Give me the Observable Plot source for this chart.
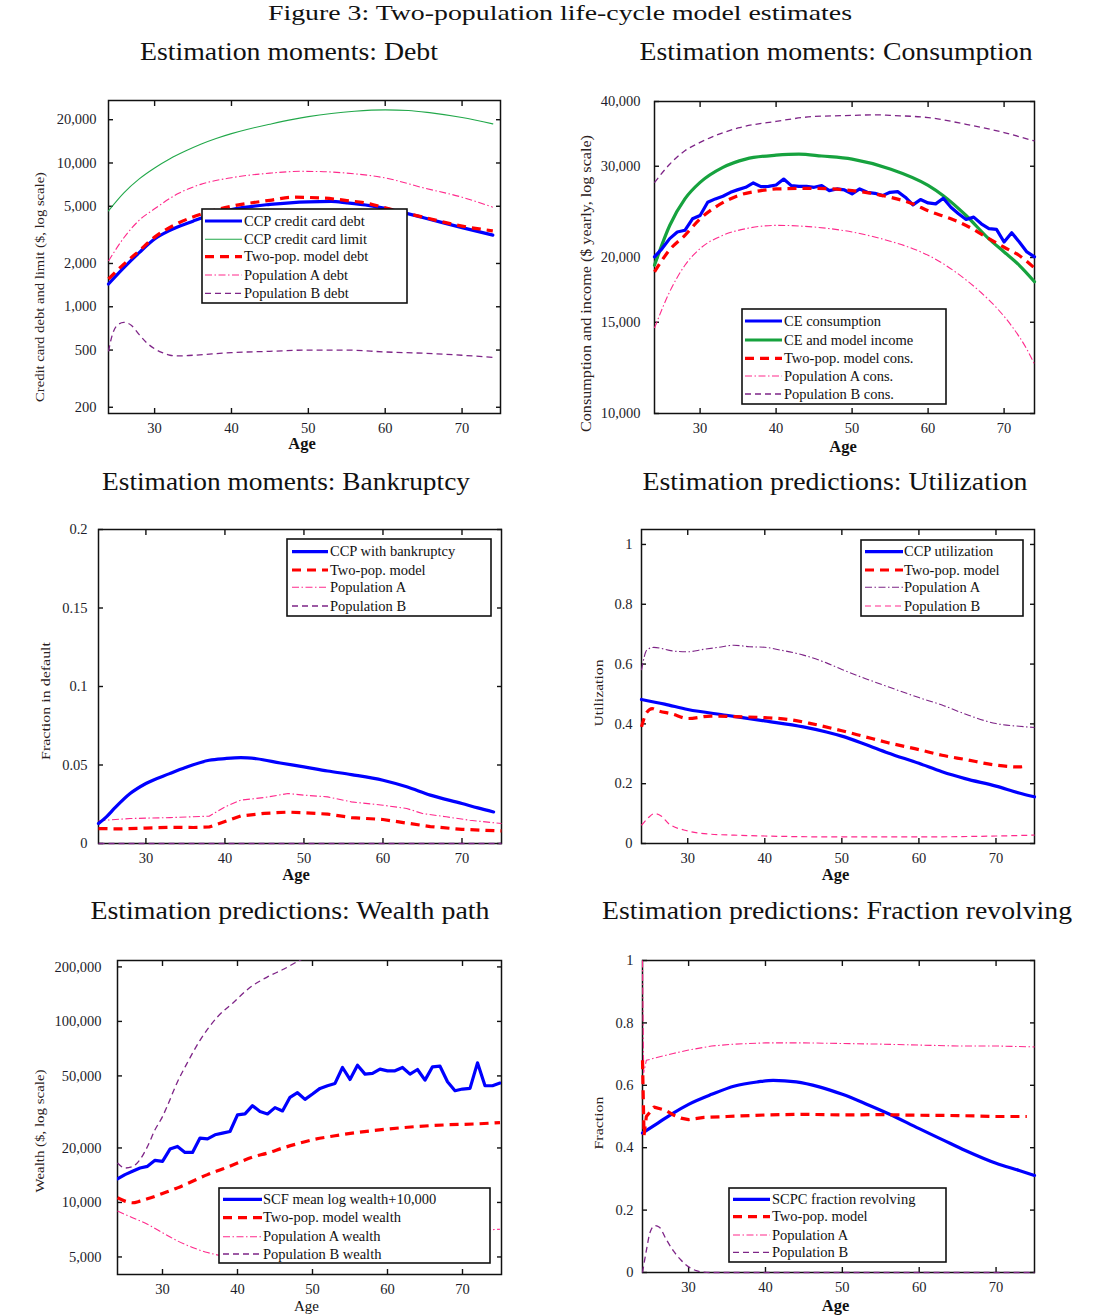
<!DOCTYPE html>
<html><head><meta charset="utf-8">
<script src="https://cdn.jsdelivr.net/npm/d3@7"></script>
<script src="https://cdn.jsdelivr.net/npm/@observablehq/plot@0.6"></script>
<style>
body{margin:0;background:#fff;}
#page{position:relative;width:1096px;height:1316px;overflow:hidden;background:#fff;font-family:"Liberation Serif","Times New Roman",serif;}
#page svg{position:absolute;}
</style></head><body><div id="page"></div><script>
// ---------------- DATA ----------------
const xTicks = [30, 40, 50, 60, 70];

// Panel 1: Debt (log scale)
const debtTicks = [200, 500, 1000, 2000, 5000, 10000, 20000];
const ccpDebt = [[24,1440],[26,1870],[28,2380],[30,2960],[32,3400],[35,3940],[38,4480],[40,4750],[45,5150],[50,5370],[53,5400],[55,5280],[58,5050],[60,4830],[65,4160],[70,3550],[74,3150]];
const ccpLimit = [[24,4650],[26,6200],[28,7750],[30,9230],[32,10700],[34,12100],[36,13500],[38,14800],[40,16000],[42,17100],[45,18600],[48,20100],[50,21000],[53,22100],[56,22900],[60,23400],[63,23200],[66,22300],[70,20700],[74,18700]];
const modelDebt = [[24,1560],[26,1980],[28,2450],[30,3050],[33,3800],[36,4400],[40,5000],[45,5500],[48,5780],[52,5700],[55,5480],[58,5200],[60,4870],[65,4190],[70,3640],[74,3370]];
const popADebt = [[24,2080],[26,3020],[28,4000],[30,4800],[33,6100],[36,7100],[40,7900],[45,8500],[49,8750],[52,8700],[55,8500],[60,7870],[65,6710],[70,5780],[74,4930]];
const popBDebt = [[24,490],[24.5,640],[25,730],[26,780],[27,740],[28,640],[29,560],[30,510],[31,480],[32,460],[33,455],[35,460],[40,480],[45,490],[50,500],[55,500],[60,485],[65,475],[70,460],[74,445]];

// Panel 2: Consumption (log scale)
const consTicks = [10000, 15000, 20000, 30000, 40000];
const ceAges = [24,25,26,27,28,29,30,31,32,33,34,35,36,37,38,39,40,41,42,43,44,45,46,47,48,49,50,51,52,53,54,55,56,57,58,59,60,61,62,63,64,65,66,67,68,69,70,71,72,73,74];
const ceCons = [20050,20810,21750,22400,22570,23750,24110,25570,25950,26260,26720,27040,27320,27850,27400,27440,27600,28340,27520,27440,27440,27320,27520,26920,27120,27000,26530,27120,26720,26600,26330,26720,26800,26140,25270,25870,25490,25380,26020,25010,24290,23680,23930,23230,22730,22660,21430,22330,21430,20500,20050];
const ceIncome = [[24,19320],[26,23060],[28,25950],[30,27920],[33,29850],[36,30970],[40,31510],[43,31660],[46,31400],[50,30970],[55,29640],[60,27550],[62,26320],[65,24100],[68,21720],[70,20500],[72,19320],[74,17960]];
const modelCons = [[24,18770],[25,19770],[26,20700],[28,22070],[30,23750],[32,25010],[35,26330],[38,26920],[40,27120],[45,27200],[50,26920],[53,26530],[55,26140],[58,25380],[60,24620],[63,23750],[65,23060],[68,21750],[70,20930],[72,20180],[74,19080]];
const popACons = [[24,14620],[26,17180],[28,19320],[30,20810],[33,22070],[36,22730],[40,23070],[45,22900],[50,22400],[55,21500],[58,20800],[60,20200],[62,19450],[65,18100],[67,17100],[69,16000],[71,14750],[73,13300],[74,12450]];
const popBCons = [[24,27900],[26,30270],[28,32140],[30,33350],[35,35560],[40,36620],[45,37420],[50,37600],[53,37700],[55,37600],[60,37240],[65,36140],[70,34840],[74,33560]];

// Panel 3: Bankruptcy
const bankTicks = [0, 0.05, 0.1, 0.15, 0.2];
const ccpBank = [[24,0.0127],[25,0.017],[26,0.0223],[28,0.0318],[30,0.0382],[33,0.0445],[35,0.0484],[38,0.053],[40,0.0541],[42,0.0547],[44,0.054],[47,0.0513],[50,0.0488],[53,0.0462],[56,0.0439],[60,0.0403],[63,0.0361],[66,0.0308],[70,0.0255],[72,0.0227],[74,0.0201]];
const modelBank = [[24,0.0095],[27,0.0093],[30,0.0098],[33,0.0103],[36,0.0102],[38,0.0105],[40,0.014],[42,0.0175],[45,0.0192],[48,0.02],[50,0.0196],[53,0.0187],[56,0.0165],[60,0.0153],[63,0.013],[66,0.0108],[70,0.009],[75,0.008]];
const popABank = [[24,0.0145],[28,0.0159],[33,0.0165],[38,0.0174],[40,0.0233],[42,0.0276],[45,0.0293],[48,0.0318],[50,0.0308],[53,0.0297],[56,0.0265],[60,0.0244],[63,0.0223],[65,0.0191],[68,0.017],[71,0.0148],[75,0.0127]];
const popBBank = [[24,0],[75,0]];

// Panel 4: Utilization
const utilTicks = [0, 0.2, 0.4, 0.6, 0.8, 1];
const ccpUtil = [[24,0.4816],[27,0.466],[30,0.448],[35,0.429],[40,0.41],[45,0.39],[48,0.373],[50,0.359],[53,0.332],[56,0.303],[60,0.268],[63,0.24],[66,0.217],[70,0.192],[73,0.169],[75,0.156]];
const modelUtil = [[24,0.39],[24.6,0.435],[25.4,0.451],[26,0.445],[28,0.433],[30,0.418],[33,0.426],[36,0.424],[40,0.421],[43,0.415],[46,0.401],[50,0.377],[53,0.357],[56,0.337],[60,0.314],[63,0.295],[66,0.281],[70,0.262],[73,0.256],[74,0.259]];
const popAUtil = [[24,0.58],[24.7,0.647],[25.6,0.656],[28,0.644],[30,0.641],[32,0.649],[34,0.656],[36,0.663],[38,0.658],[40,0.656],[42,0.647],[45,0.63],[48,0.604],[50,0.582],[53,0.552],[56,0.524],[60,0.488],[63,0.463],[66,0.433],[70,0.401],[73,0.392],[75,0.388]];
const popBUtil = [[24,0.061],[24.8,0.084],[25.7,0.1],[26.6,0.091],[27.5,0.067],[30,0.042],[33,0.031],[36,0.028],[40,0.025],[50,0.022],[60,0.022],[70,0.025],[75,0.028]];

// Panel 5: Wealth (log scale)
const wealthTicks = [5000, 10000, 20000, 50000, 100000, 200000];
const scfAges = [24,25,26,27,28,29,30,31,32,33,34,35,36,37,38,39,40,41,42,43,44,45,46,47,48,49,50,51,52,53,54,55,56,57,58,59,60,61,62,63,64,65,66,67,68,69,70,71,72,73,74,75];
const scfWealth = [13490,14250,14870,15500,15830,17080,16870,19720,20400,18900,18900,22670,22470,23640,24140,24660,30440,30830,34260,31760,30830,33410,32030,38070,40390,37120,39710,42660,44130,45450,55660,47800,57320,51140,51580,54490,53350,53350,55660,51140,54250,47400,56130,56570,46410,41420,42310,42660,59030,44130,44130,45640];
const modelWealth = [[24,10610],[25,10170],[26,9960],[27,10170],[28,10470],[30,11210],[32,12040],[34,13090],[36,14250],[38,15300],[40,16510],[42,17820],[44,18740],[46,19970],[48,21100],[50,22190],[53,23350],[56,24360],[60,25430],[64,26280],[68,26850],[72,27180],[75,27640]];
const popAWealth = [[24,8960],[26,8240],[28,7570],[30,6810],[32,6130],[34,5640],[36,5290],[38,5070],[40,4950],[45,4900],[50,5100],[55,5500],[60,6000],[65,6500],[70,6900],[75,7110]];
const popBWealth = [[24,16520],[25,15500],[26,15800],[27,17230],[28,20380],[29,25190],[30,29800],[30.6,33810],[31.9,45450],[33.25,58470],[35,78640],[37.3,105600],[39.5,127700],[41.7,154400],[43.9,175200],[46.2,194800],[48.2,216400],[49,225000]];

// Panel 6: Fraction revolving
const fracTicks = [0, 0.2, 0.4, 0.6, 0.8, 1];
const scpcRev = [[24,0.447],[26,0.479],[28,0.511],[30,0.539],[33,0.571],[36,0.598],[39,0.611],[41,0.616],[44,0.611],[47,0.595],[50,0.571],[53,0.541],[56,0.509],[60,0.461],[63,0.426],[66,0.391],[70,0.35],[73,0.327],[75,0.311]];
const modelRev = [[24,0.68],[24.2,0.44],[24.5,0.5],[25.5,0.53],[27,0.52],[28,0.505],[29,0.495],[30,0.49],[32,0.497],[35,0.5],[40,0.505],[45,0.507],[50,0.505],[55,0.506],[60,0.504],[65,0.503],[70,0.5],[74,0.5]];
const popARev = [[24,1.0],[24.15,0.64],[24.5,0.68],[26,0.69],[28,0.702],[30,0.713],[33,0.726],[36,0.732],[40,0.736],[45,0.736],[50,0.734],[55,0.732],[60,0.729],[65,0.726],[70,0.726],[75,0.723]];
const popBRev = [[24,0],[24.5,0.07],[25,0.13],[25.6,0.15],[26.2,0.145],[27,0.11],[28,0.07],[29,0.04],[30,0.018],[31,0.006],[32,0.001],[33,0],[75,0]];

// ---------------- STYLES ----------------
const PINK = "#ff2a8c", PURPLE = "#7e2487";
const ST = {
  blue:{stroke:"#0000ff", strokeWidth:3.2},
  greenThin:{stroke:"#22a84a", strokeWidth:1.1},
  greenThick:{stroke:"#16a23e", strokeWidth:3.2},
  red:{stroke:"#ff0000", strokeWidth:3.2, strokeDasharray:"9,6", strokeLinecap:"butt"},
  pinkDD:{stroke:PINK, strokeWidth:1.1, strokeDasharray:"7,2.5,1.5,2.5", strokeLinecap:"butt"},
  pinkDash:{stroke:PINK, strokeWidth:1.2, strokeDasharray:"6,4", strokeLinecap:"butt"},
  purpleDash:{stroke:PURPLE, strokeWidth:1.3, strokeDasharray:"6,4", strokeLinecap:"butt"},
  purpleDD:{stroke:PURPLE, strokeWidth:1.1, strokeDasharray:"7,2.5,1.5,2.5", strokeLinecap:"butt"}
};
const pairs = (ages, vals) => ages.map((a, i) => [a, vals[i]]);
const comma = d3.format(",");
const plain = d => String(d);

const panels = [
  {title:"Estimation moments: Debt", tx:289, ty:60, tl:298,
   frame:[108,100,500,413], xDomain:[24,75], yType:"log", yDomain:[181,27200], yTicks:debtTicks, fmt:comma, pad:12, clip:false,
   ylab:"Credit card debt and limit ($, log scale)", ylx:40, yly:287, yll:230, ylf:12,
   age:[302,449,true],
   series:[[ccpLimit,"greenThin"],[popADebt,"pinkDD"],[popBDebt,"purpleDash"],[ccpDebt,"blue"],[modelDebt,"red"]],
   legend:{box:[202,209,407,303], rows:[221,239.3,256.7,275,293.3], sx:[205,242], tx:244,
     items:[["CCP credit card debt","blue"],["CCP credit card limit","greenThin"],["Two-pop. model debt","red"],["Population A debt","pinkDD"],["Population B debt","purpleDash"]]}},
  {title:"Estimation moments: Consumption", tx:836, ty:60, tl:393,
   frame:[654,101,1034,413], xDomain:[24,74], yType:"log", yDomain:[10000,40000], yTicks:consTicks, fmt:comma, pad:14, clip:false,
   ylab:"Consumption and income ($ yearly, log scale)", ylx:586, yly:283.5, yll:297, ylf:14,
   age:[843,452,true],
   series:[[popBCons,"purpleDash"],[popACons,"pinkDD"],[ceIncome,"greenThick"],[pairs(ceAges,ceCons),"blue","linear"],[modelCons,"red"]],
   legend:{box:[742,309,946,404], rows:[321,340,358.3,376,394], sx:[745,782], tx:784,
     items:[["CE consumption","blue"],["CE and model income","greenThick"],["Two-pop. model cons.","red"],["Population A cons.","pinkDD"],["Population B cons.","purpleDash"]]}},
  {title:"Estimation moments: Bankruptcy", tx:286, ty:490, tl:368,
   frame:[98,529,501,843], xDomain:[24,75], yType:"linear", yDomain:[0,0.2], yTicks:bankTicks, fmt:plain, pad:11, clip:false,
   ylab:"Fraction in default", ylx:46, yly:701, yll:118, ylf:13,
   age:[296,880,true],
   series:[[popABank,"pinkDD","linear"],[modelBank,"red","linear"],[ccpBank,"blue"],[popBBank,"purpleDash","linear"]],
   legend:{box:[287,539,491,616], rows:[551.7,570,587.3,606], sx:[292,328], tx:330,
     items:[["CCP with bankruptcy","blue"],["Two-pop. model","red"],["Population A","pinkDD"],["Population B","purpleDash"]]}},
  {title:"Estimation predictions: Utilization", tx:835, ty:490, tl:385,
   frame:[641,529,1034,843], xDomain:[24,75], yType:"linear", yDomain:[0,1.05], yTicks:utilTicks, fmt:plain, pad:9, clip:false,
   ylab:"Utilization", ylx:599, yly:693, yll:67, ylf:13,
   age:[835.5,880,true],
   series:[[popAUtil,"purpleDD"],[popBUtil,"pinkDash"],[ccpUtil,"blue"],[modelUtil,"red"]],
   legend:{box:[861,540,1023,616], rows:[551.7,570,587.3,606], sx:[865,903], tx:904,
     items:[["CCP utilization","blue"],["Two-pop. model","red"],["Population A","purpleDD"],["Population B","pinkDash"]]}},
  {title:"Estimation predictions: Wealth path", tx:290, ty:919, tl:399,
   frame:[117,960,501,1274], xDomain:[24,75.2], yType:"log", yDomain:[4000,217000], yTicks:wealthTicks, fmt:comma, pad:16, clip:true,
   ylab:"Wealth ($, log scale)", ylx:40, yly:1131, yll:123, ylf:13,
   age:[306.5,1311,false],
   series:[[popBWealth,"purpleDash"],[popAWealth,"pinkDD"],[modelWealth,"red"],[pairs(scfAges,scfWealth),"blue","linear"]],
   legend:{box:[219,1188,490,1263], rows:[1199.3,1217.7,1236.7,1254], sx:[223,262], tx:263,
     items:[["SCF mean log wealth+10,000","blue"],["Two-pop. model wealth","red"],["Population A wealth","pinkDD"],["Population B wealth","purpleDash"]]}},
  {title:"Estimation predictions: Fraction revolving", tx:837, ty:919, tl:470,
   frame:[642,960,1034,1272], xDomain:[24,75], yType:"linear", yDomain:[0,1], yTicks:fracTicks, fmt:plain, pad:9, clip:false,
   ylab:"Fraction", ylx:599, yly:1123, yll:53, ylf:13,
   age:[835.5,1311,true],
   series:[[popARev,"pinkDD","linear"],[popBRev,"purpleDash"],[scpcRev,"blue"],[modelRev,"red","linear"]],
   legend:{box:[729,1188,946,1262], rows:[1199.3,1216.7,1235,1252.3], sx:[733,770], tx:772,
     items:[["SCPC fraction revolving","blue"],["Two-pop. model","red"],["Population A","pinkDD"],["Population B","purpleDash"]]}}
];

const page = document.getElementById("page");
const FONT = "Liberation Serif, Times New Roman, serif";
const INK = "#1d1d2b";

for (const p of panels) {
  const [l, t, r, b] = p.frame;
  const mL = 72, mR = 14, mT = 14, mB = 34;
  const marks = [
    Plot.frame({stroke:"#111", strokeWidth:1.5}),
    Plot.axisX({ticks:xTicks, anchor:"bottom", tickSize:0, tickPadding:9, fill:INK, fontSize:14.5, label:null}),
    Plot.axisX({ticks:xTicks, anchor:"bottom", tickSize:5, dy:-5, fill:"none", stroke:"#111", strokeWidth:1.4, label:null}),
    Plot.axisX({ticks:xTicks, anchor:"top", tickSize:5, dy:5, fill:"none", stroke:"#111", strokeWidth:1.4, label:null}),
    Plot.axisY({ticks:p.yTicks, anchor:"left", tickSize:0, tickPadding:p.pad, tickFormat:p.fmt, fill:INK, fontSize:14.5, label:null}),
    Plot.axisY({ticks:p.yTicks, anchor:"left", tickSize:5, dx:5, fill:"none", stroke:"#111", strokeWidth:1.4, label:null}),
    Plot.axisY({ticks:p.yTicks, anchor:"right", tickSize:5, dx:-5, fill:"none", stroke:"#111", strokeWidth:1.4, label:null})
  ];
  for (const [data, st, curve] of p.series) {
    marks.push(Plot.line(data, {x:d => d[0], y:d => d[1], curve:curve || "monotone-x", clip:p.clip, ...ST[st]}));
  }
  const svg = Plot.plot({
    width:(r - l) + mL + mR, height:(b - t) + mT + mB,
    marginLeft:mL, marginRight:mR, marginTop:mT, marginBottom:mB,
    x:{type:"linear", domain:p.xDomain, axis:null},
    y:{type:p.yType, domain:p.yDomain, axis:null},
    style:{fontFamily:FONT, fontSize:"14.5px", background:"transparent", overflow:"visible", maxWidth:"none"},
    marks
  });
  svg.style.left = (l - mL) + "px";
  svg.style.top = (t - mT) + "px";
  page.appendChild(svg);
}

// ---------------- OVERLAY: titles, axis labels, legends ----------------
const ov = d3.select(page).append("svg").attr("width",1096).attr("height",1316)
  .style("left","0px").style("top","0px").attr("font-family",FONT);

ov.append("text").attr("x",560).attr("y",20).attr("text-anchor","middle")
  .attr("font-size",21.5).attr("fill","#111").attr("textLength",584).attr("lengthAdjust","spacingAndGlyphs")
  .text("Figure 3: Two-population life-cycle model estimates");

for (const p of panels) {
  ov.append("text").attr("x",p.tx).attr("y",p.ty).attr("text-anchor","middle")
    .attr("font-size",26).attr("fill","#111").attr("textLength",p.tl).attr("lengthAdjust","spacingAndGlyphs")
    .text(p.title);
  ov.append("text").attr("transform",`translate(${p.ylx + 0.33*p.ylf},${p.yly}) rotate(-90)`)
    .attr("text-anchor","middle").attr("font-size",p.ylf).attr("fill","#2a2020")
    .attr("textLength",p.yll).attr("lengthAdjust","spacingAndGlyphs").text(p.ylab);
  const [ax, ay, bold] = p.age;
  ov.append("text").attr("x",ax).attr("y",ay).attr("text-anchor","middle")
    .attr("font-size",bold ? 16.5 : 15).attr("font-weight",bold ? "bold" : "normal").attr("fill","#111").text("Age");
  const L = p.legend;
  const g = ov.append("g");
  g.append("rect").attr("x",L.box[0]).attr("y",L.box[1]).attr("width",L.box[2]-L.box[0]).attr("height",L.box[3]-L.box[1])
    .attr("fill","#fff").attr("stroke","#111").attr("stroke-width",1.6);
  L.items.forEach(([label, st], i) => {
    const s = ST[st];
    g.append("line").attr("x1",L.sx[0]).attr("x2",L.sx[1]).attr("y1",L.rows[i]).attr("y2",L.rows[i])
      .attr("stroke",s.stroke).attr("stroke-width",s.strokeWidth)
      .attr("stroke-dasharray",s.strokeDasharray || null).attr("stroke-linecap","butt");
    g.append("text").attr("x",L.tx).attr("y",L.rows[i]).attr("dy","0.33em")
      .attr("font-size",14.5).attr("fill","#111").text(label);
  });
}
</script></body></html>
